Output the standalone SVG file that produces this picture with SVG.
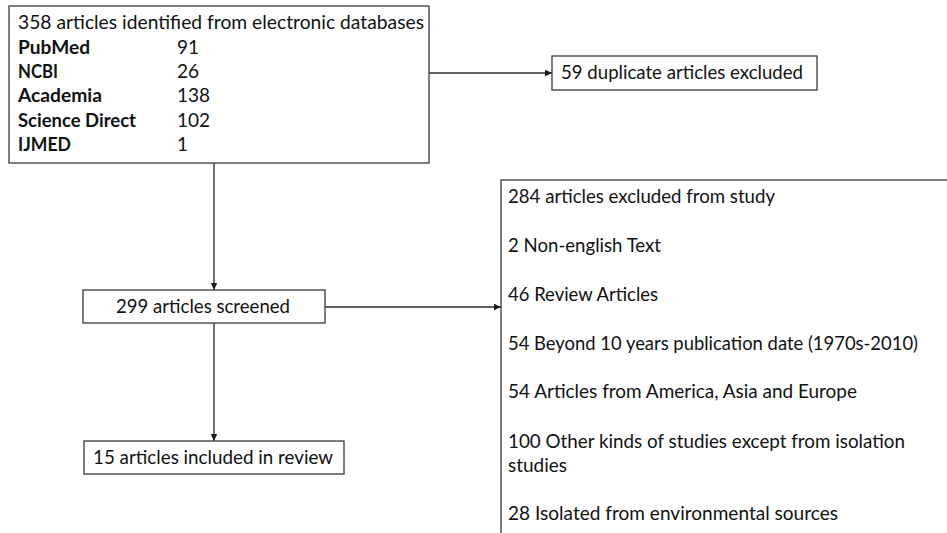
<svg xmlns="http://www.w3.org/2000/svg" width="947" height="533" viewBox="0 0 947 533">
<style>
.box{fill:#fff;stroke:#3a3a3a;stroke-width:1.3}
.t{font-family:Lato,"Liberation Sans",sans-serif;font-size:19px;fill:#111}
.b{font-weight:bold}
.c{stroke:#2a2a2a;stroke-width:1.3;fill:none;marker-end:url(#ah)}
</style>
<defs>
<marker id="ah" markerUnits="userSpaceOnUse" markerWidth="8" markerHeight="8" refX="7" refY="4" orient="auto">
<path d="M0,0.8 L7,4 L0,7.2 Z" fill="#1a1a1a"/>
</marker>
</defs>
<rect width="947" height="533" fill="#fff"/>
<g id="connectors">
<line class="c" x1="429" y1="73" x2="552" y2="73"/>
<line class="c" x1="214" y1="163" x2="214" y2="290"/>
<line class="c" x1="325" y1="307" x2="501" y2="307"/>
<line class="c" x1="214" y1="323" x2="214" y2="441"/>
</g>
<g id="sources">
<rect class="box" x="9" y="6" width="420" height="157"/>
<text class="t" x="18" y="29" textLength="406" lengthAdjust="spacingAndGlyphs">358 articles identified from electronic databases</text>
<text class="t b" x="18" y="54" textLength="72" lengthAdjust="spacingAndGlyphs">PubMed</text>
<text class="t" x="177" y="54">91</text>
<text class="t b" x="18" y="78" textLength="40" lengthAdjust="spacingAndGlyphs">NCBI</text>
<text class="t" x="177" y="78">26</text>
<text class="t b" x="18" y="102" textLength="84" lengthAdjust="spacingAndGlyphs">Academia</text>
<text class="t" x="177" y="102">138</text>
<text class="t b" x="18" y="127" textLength="118" lengthAdjust="spacingAndGlyphs">Science Direct</text>
<text class="t" x="177" y="127">102</text>
<text class="t b" x="18" y="151" textLength="53" lengthAdjust="spacingAndGlyphs">IJMED</text>
<text class="t" x="177" y="151">1</text>
</g>
<g id="duplicates">
<rect class="box" x="552" y="56" width="265" height="34"/>
<text class="t" x="561" y="79" textLength="242" lengthAdjust="spacingAndGlyphs">59 duplicate articles excluded</text>
</g>
<g id="screened">
<rect class="box" x="83" y="290" width="242" height="33"/>
<text class="t" x="116" y="313" textLength="174" lengthAdjust="spacingAndGlyphs">299 articles screened</text>
</g>
<g id="included">
<rect class="box" x="84" y="441" width="260" height="33"/>
<text class="t" x="93" y="464" textLength="240" lengthAdjust="spacingAndGlyphs">15 articles included in review</text>
</g>
<g id="excluded">
<rect class="box" x="501" y="180" width="470" height="380"/>
<text class="t" x="508" y="203" textLength="267" lengthAdjust="spacingAndGlyphs">284 articles excluded from study</text>
<text class="t" x="508" y="252" textLength="153" lengthAdjust="spacingAndGlyphs">2 Non-english Text</text>
<text class="t" x="508" y="301" textLength="150" lengthAdjust="spacingAndGlyphs">46 Review Articles</text>
<text class="t" x="508" y="350" textLength="410" lengthAdjust="spacingAndGlyphs">54 Beyond 10 years publication date (1970s-2010)</text>
<text class="t" x="508" y="398" textLength="349" lengthAdjust="spacingAndGlyphs">54 Articles from America, Asia and Europe</text>
<text class="t" x="508" y="448" textLength="397" lengthAdjust="spacingAndGlyphs">100 Other kinds of studies except from isolation</text>
<text class="t" x="508" y="472" textLength="59" lengthAdjust="spacingAndGlyphs">studies</text>
<text class="t" x="508" y="520" textLength="330" lengthAdjust="spacingAndGlyphs">28 Isolated from environmental sources</text>
</g>
</svg>
